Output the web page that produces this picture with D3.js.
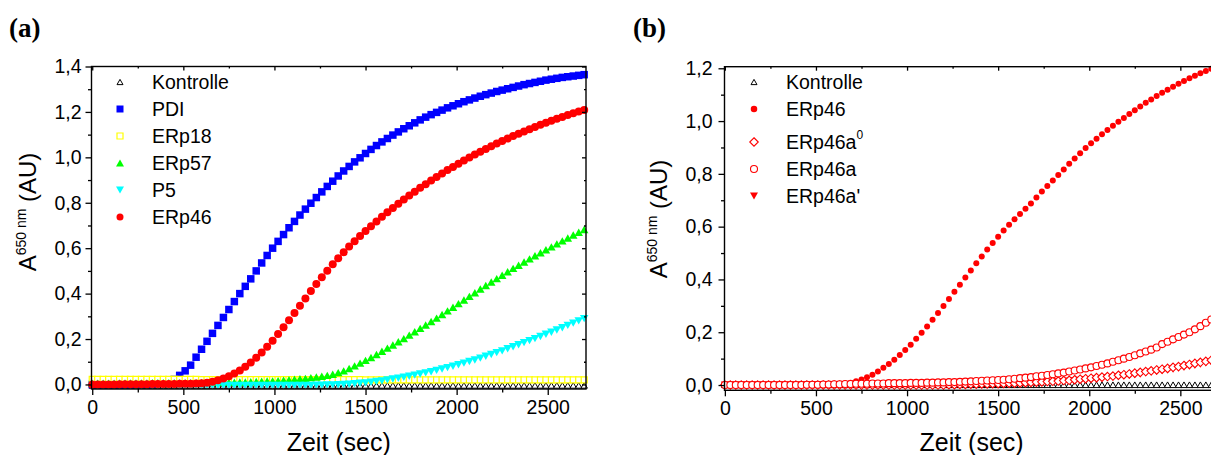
<!DOCTYPE html>
<html><head><meta charset="utf-8">
<script src="https://cdn.jsdelivr.net/npm/d3@7/dist/d3.min.js"></script>
<style>
body{margin:0;background:#fff}
svg{display:block}
</style></head>
<body><svg id="chart" width="1211" height="455"></svg>
<script>
// ---------- DATA ----------
const timeA = [0,30,60,90,120,150,180,210,240,270,300,330,360,390,420,450,480,510,540,570,600,630,660,690,720,750,780,810,840,870,900,930,960,990,1020,1050,1080,1110,1140,1170,1200,1230,1260,1290,1320,1350,1380,1410,1440,1470,1500,1530,1560,1590,1620,1650,1680,1710,1740,1770,1800,1830,1860,1890,1920,1950,1980,2010,2040,2070,2100,2130,2160,2190,2220,2250,2280,2310,2340,2370,2400,2430,2460,2490,2520,2550,2580,2610,2640,2670,2700];

// Panel (a)
const kontrolleA = [-0.004,-0.004,-0.004,-0.004,-0.004,-0.004,-0.004,-0.004,-0.004,-0.004,-0.004,-0.004,-0.004,-0.004,-0.004,-0.004,-0.004,-0.004,-0.004,-0.004,-0.004,-0.004,-0.004,-0.004,-0.004,-0.004,-0.004,-0.004,-0.004,-0.004,-0.004,-0.004,-0.004,-0.004,-0.004,-0.004,-0.004,-0.004,-0.004,-0.004,-0.004,-0.004,-0.004,-0.004,-0.004,-0.004,-0.004,-0.004,-0.004,-0.004,-0.004,-0.004,-0.004,-0.004,-0.004,-0.004,-0.004,-0.004,-0.004,-0.004,-0.004,-0.004,-0.004,-0.004,-0.004,-0.004,-0.004,-0.004,-0.004,-0.004,-0.004,-0.004,-0.004,-0.004,-0.004,-0.004,-0.004,-0.004,-0.004,-0.004,-0.004,-0.004,-0.004,-0.004,-0.004,-0.004,-0.004,-0.004,-0.004,-0.004,-0.004];
const pdi = [0,0,0,0,0,0,0,0,0.001,0.001,0.002,0.003,0.005,0.008,0.013,0.022,0.040,0.060,0.085,0.120,0.155,0.190,0.225,0.260,0.295,0.330,0.365,0.400,0.432,0.465,0.500,0.535,0.568,0.600,0.630,0.660,0.690,0.718,0.746,0.772,0.798,0.823,0.848,0.872,0.895,0.918,0.940,0.960,0.980,0.998,1.017,1.035,1.052,1.068,1.083,1.098,1.112,1.126,1.139,1.152,1.165,1.177,1.188,1.198,1.208,1.218,1.227,1.236,1.245,1.253,1.261,1.269,1.276,1.283,1.290,1.296,1.302,1.308,1.314,1.320,1.325,1.330,1.335,1.340,1.344,1.348,1.352,1.355,1.358,1.361,1.364];
const erp18 = [0.022,0.022,0.022,0.022,0.022,0.022,0.022,0.022,0.022,0.022,0.022,0.022,0.022,0.022,0.022,0.022,0.022,0.022,0.022,0.022,0.021,0.021,0.021,0.021,0.021,0.021,0.021,0.021,0.021,0.021,0.021,0.021,0.021,0.021,0.021,0.021,0.021,0.021,0.021,0.021,0.021,0.021,0.021,0.021,0.021,0.021,0.021,0.021,0.021,0.021,0.020,0.020,0.020,0.020,0.020,0.020,0.020,0.020,0.020,0.020,0.020,0.020,0.020,0.020,0.020,0.020,0.020,0.020,0.020,0.020,0.020,0.020,0.020,0.020,0.020,0.020,0.020,0.020,0.020,0.020,0.020,0.020,0.020,0.020,0.020,0.020,0.020,0.020,0.020,0.020,0.020];
const erp57 = [0.006,0.006,0.006,0.006,0.006,0.007,0.007,0.007,0.007,0.007,0.007,0.008,0.008,0.008,0.008,0.008,0.008,0.008,0.008,0.008,0.009,0.009,0.009,0.009,0.010,0.010,0.010,0.011,0.011,0.012,0.013,0.014,0.015,0.016,0.017,0.019,0.021,0.023,0.025,0.027,0.030,0.033,0.036,0.040,0.045,0.052,0.060,0.070,0.082,0.094,0.106,0.119,0.132,0.146,0.160,0.174,0.188,0.202,0.217,0.232,0.247,0.262,0.277,0.292,0.308,0.324,0.340,0.356,0.372,0.388,0.404,0.420,0.436,0.451,0.466,0.481,0.496,0.511,0.525,0.539,0.553,0.567,0.580,0.593,0.606,0.619,0.632,0.645,0.658,0.670,0.682];
const p5 = [-0.004,-0.004,-0.004,-0.004,-0.004,-0.004,-0.004,-0.004,-0.004,-0.004,-0.004,-0.004,-0.004,-0.004,-0.004,-0.004,-0.004,-0.004,-0.004,-0.004,-0.004,-0.004,-0.004,-0.004,-0.004,-0.004,-0.004,-0.004,-0.004,-0.004,-0.004,-0.004,-0.004,-0.004,-0.004,-0.004,-0.004,-0.004,-0.004,-0.004,-0.004,-0.003,-0.003,-0.002,-0.002,-0.001,0.000,0.001,0.003,0.005,0.007,0.010,0.013,0.016,0.020,0.024,0.028,0.032,0.036,0.041,0.046,0.051,0.056,0.062,0.068,0.074,0.080,0.087,0.094,0.101,0.108,0.116,0.124,0.132,0.140,0.148,0.157,0.166,0.175,0.184,0.193,0.202,0.211,0.221,0.230,0.240,0.250,0.260,0.270,0.280,0.290];
const erp46A = [0,0,0,0,0,0.001,0.001,0.001,0.001,0.001,0.001,0.002,0.002,0.002,0.002,0.002,0.003,0.003,0.003,0.004,0.005,0.008,0.012,0.018,0.026,0.036,0.048,0.062,0.078,0.097,0.118,0.141,0.166,0.193,0.222,0.252,0.283,0.315,0.347,0.379,0.411,0.442,0.472,0.501,0.529,0.556,0.582,0.607,0.631,0.654,0.676,0.697,0.718,0.738,0.758,0.777,0.796,0.814,0.832,0.849,0.866,0.882,0.898,0.914,0.929,0.944,0.958,0.972,0.986,0.999,1.012,1.025,1.037,1.049,1.061,1.072,1.083,1.094,1.104,1.114,1.124,1.134,1.143,1.152,1.161,1.170,1.178,1.186,1.194,1.202,1.209];

// Panel (b)
const kontrolleB = [0.001,0.001,0.001,0.001,0.001,0.001,0.001,0.001,0.001,0.001,0.001,0.001,0.001,0.001,0.001,0.001,0.001,0.001,0.001,0.001,0.001,0.001,0.001,0.001,0.001,0.001,0.001,0.001,0.001,0.001,0.001,0.001,0.001,0.001,0.001,0.001,0.001,0.001,0.001,0.001,0.001,0.001,0.001,0.001,0.001,0.001,0.001,0.001,0.001,0.001,0.001,0.001,0.001,0.001,0.001,0.001,0.001,0.001,0.001,0.001,0.001,0.001,0.001,0.001,0.001,0.001,0.001,0.001,0.001,0.001,0.001,0.001,0.001,0.001,0.001,0.001,0.001,0.001,0.001,0.001,0.001,0.001,0.001,0.001,0.001,0.001,0.001,0.001,0.001,0.001,0.001];
const erp46B = [0,0,0,0,0,0,0,0,0,0,0,0,0,0.001,0.001,0.001,0.001,0.001,0.002,0.002,0.003,0.004,0.006,0.009,0.014,0.021,0.029,0.039,0.051,0.065,0.080,0.096,0.114,0.133,0.153,0.175,0.198,0.222,0.247,0.273,0.299,0.326,0.353,0.380,0.407,0.434,0.461,0.487,0.513,0.538,0.562,0.585,0.607,0.628,0.648,0.668,0.688,0.710,0.733,0.754,0.775,0.796,0.817,0.838,0.858,0.878,0.898,0.916,0.933,0.950,0.966,0.982,0.997,1.012,1.027,1.041,1.055,1.069,1.082,1.095,1.107,1.119,1.130,1.141,1.152,1.162,1.172,1.181,1.190,1.198,1.206];
const erp46a0 = [0,0,0,0,0,0,0,0,0,0,0,0,0,0,0,0,0,0,0,0,0,0,0,0,0,0,0,0,0,0,0,0,0,0,0,0,0,0,0,0,0,0.001,0.001,0.002,0.002,0.003,0.003,0.004,0.004,0.005,0.005,0.006,0.007,0.007,0.008,0.009,0.010,0.011,0.012,0.013,0.014,0.015,0.017,0.018,0.020,0.022,0.024,0.026,0.028,0.030,0.032,0.034,0.037,0.039,0.042,0.045,0.048,0.051,0.054,0.057,0.060,0.063,0.067,0.070,0.074,0.078,0.082,0.086,0.090,0.094,0.098];
const erp46a = [0,0,0,0,0,0,0,0,0,0,0,0,0,0,0,0.001,0.001,0.001,0.002,0.002,0.003,0.003,0.004,0.004,0.005,0.005,0.005,0.006,0.006,0.006,0.007,0.007,0.007,0.007,0.008,0.008,0.008,0.009,0.009,0.010,0.010,0.011,0.011,0.012,0.013,0.014,0.015,0.016,0.017,0.018,0.019,0.020,0.022,0.024,0.026,0.028,0.030,0.033,0.035,0.038,0.041,0.044,0.047,0.051,0.055,0.059,0.063,0.067,0.072,0.077,0.082,0.088,0.094,0.100,0.106,0.113,0.120,0.127,0.134,0.142,0.155,0.164,0.173,0.182,0.191,0.200,0.211,0.223,0.236,0.248,0.260];
const erp46aPrime = [0,0,0,0,0,0,0,0,0,0,0,0,0,0,0,0,0,0,0,0,0,0,0,0,0,0,0,0,0,0,0,0,0,0,0,0,0,0,0,0,0,0,0,0.001,0.001,0.001,0.002,0.002,0.003,0.003,0.004,0.004,0.005,0.005,0.006,0.007,0.008,0.008,0.009,0.010,0.011,0.012,0.013,0.015,0.016,0.018,0.020,0.021,0.023,0.025,0.027,0.029,0.031,0.034,0.036,0.039,0.042,0.045,0.048,0.051,0.054,0.057,0.060,0.063,0.067,0.071,0.075,0.079,0.083,0.087,0.091];

const xTicks = [0,500,1000,1500,2000,2500];
const xMinor = [250,750,1250,1750,2250,2750];
const yTicksA = [0,0.2,0.4,0.6,0.8,1.0,1.2,1.4];
const yMinorA = [0.1,0.3,0.5,0.7,0.9,1.1,1.3];
const yTicksB = [0,0.2,0.4,0.6,0.8,1.0,1.2];
const yMinorB = [0.1,0.3,0.5,0.7,0.9,1.1];
const legendA = ["Kontrolle","PDI","ERp18","ERp57","P5","ERp46"];
const legendB = ["Kontrolle","ERp46","ERp46a","ERp46a","ERp46a'"];

// ---------- DRAWING ----------
const SANS = "'Liberation Sans', Arial, sans-serif";
const SERIF = "'Liberation Serif', 'Times New Roman', serif";
const svg = d3.select("#chart");
const fmt = v => d3.format(".1f")(v).replace(".", ",");

function shape(kind, s) {
  const p = d3.path(), h = s / 2;
  if (kind === "circle") { p.arc(0, 0, h, 0, 2 * Math.PI); }
  else if (kind === "square") { p.rect(-h, -h, s, s); }
  else if (kind === "up") { const th = s * 0.87; p.moveTo(0, -th / 2); p.lineTo(h, th / 2); p.lineTo(-h, th / 2); p.closePath(); }
  else if (kind === "down") { const th = s * 0.87; p.moveTo(0, th / 2); p.lineTo(h, -th / 2); p.lineTo(-h, -th / 2); p.closePath(); }
  else if (kind === "diamond") { p.moveTo(0, -h); p.lineTo(h, 0); p.lineTo(0, h); p.lineTo(-h, 0); p.closePath(); }
  return p.toString();
}

function panel(cfg) {
  const g = svg.append("g");
  const x = d3.scaleLinear().domain(cfg.xDom).range([cfg.left, cfg.right]);
  const y = d3.scaleLinear().domain(cfg.yDom).range([cfg.bottom, cfg.top]);

  cfg.draw.forEach(s => {
    g.append("g").selectAll("path").data(s.values.map((v, i) => [s.times[i], v])).join("path")
      .attr("d", shape(s.kind, s.size))
      .attr("transform", d => `translate(${x(d[0])},${y(d[1])})`)
      .attr("fill", s.fill).attr("stroke", s.stroke || "none").attr("stroke-width", s.sw || 0);
  });

  g.append("rect").attr("x", cfg.left).attr("y", cfg.top)
    .attr("width", cfg.right - cfg.left).attr("height", cfg.bottom - cfg.top)
    .attr("fill", "none").attr("stroke", "#000").attr("stroke-width", 1.4);

  const style = a => { a.select(".domain").remove(); a.selectAll("line").attr("stroke", "#000").attr("stroke-width", 1.3); };
  const lbl = sel => sel.selectAll("text").style("font-size", "19.5px").style("font-family", SANS).attr("fill", "#000");
  const xm = xMinor.filter(v => v < cfg.xDom[1]);
  g.append("g").attr("transform", `translate(0,${cfg.bottom})`)
    .call(d3.axisBottom(x).tickValues(xTicks).tickSize(6).tickPadding(5).tickFormat(d3.format("d")))
    .call(style).call(lbl);
  g.append("g").attr("transform", `translate(0,${cfg.bottom})`)
    .call(d3.axisBottom(x).tickValues(xm).tickSize(3.5).tickFormat("")).call(style);
  g.append("g").attr("transform", `translate(0,${cfg.top})`)
    .call(d3.axisBottom(x).tickValues(xTicks).tickSize(4).tickFormat("")).call(style);
  g.append("g").attr("transform", `translate(0,${cfg.top})`)
    .call(d3.axisBottom(x).tickValues(xm).tickSize(2).tickFormat("")).call(style);
  g.append("g").attr("transform", `translate(${cfg.left},0)`)
    .call(d3.axisLeft(y).tickValues(cfg.yTicks).tickSize(6).tickPadding(cfg.yPad).tickFormat(fmt))
    .call(style).call(lbl);
  g.append("g").attr("transform", `translate(${cfg.left},0)`)
    .call(d3.axisLeft(y).tickValues(cfg.yMinor).tickSize(3.5).tickFormat("")).call(style);
  g.append("g").attr("transform", `translate(${cfg.right},0)`)
    .call(d3.axisLeft(y).tickValues(cfg.yTicks).tickSize(4).tickFormat("")).call(style);
  g.append("g").attr("transform", `translate(${cfg.right},0)`)
    .call(d3.axisLeft(y).tickValues(cfg.yMinor).tickSize(2).tickFormat("")).call(style);

  g.append("text").attr("x", (cfg.left + cfg.right) / 2).attr("y", 451)
    .attr("text-anchor", "middle").style("font-family", SANS).style("font-size", "25px").text("Zeit (sec)");
  const yl = g.append("text").attr("transform", `translate(${cfg.ylx},${cfg.yly}) rotate(-90)`)
    .attr("text-anchor", "middle").style("font-family", SANS).style("font-size", "24px");
  yl.append("tspan").text("A");
  yl.append("tspan").style("font-size", "14px").attr("dy", -10).text("650 nm");
  yl.append("tspan").attr("dy", 10).text(" (AU)");

  g.append("text").attr("x", cfg.letterX).attr("y", 37)
    .style("font-family", SERIF).style("font-size", "27px").style("font-weight", "bold").text(cfg.letter);

  const lg = g.append("g");
  cfg.legend.forEach((it, i) => {
    const ly = cfg.legY[i];
    lg.append("path").attr("d", shape(it.kind, it.lsize))
      .attr("transform", `translate(${cfg.legSymX},${ly})`)
      .attr("fill", it.fill).attr("stroke", it.stroke || "none").attr("stroke-width", it.sw || 0);
    const t = lg.append("text").attr("x", cfg.legTextX).attr("y", ly + 7)
      .style("font-family", SANS).style("font-size", "19.5px");
    t.append("tspan").text(it.name);
    if (it.sup) t.append("tspan").style("font-size", "12px").attr("dy", -10).text(it.sup);
  });
}

const sA = {
  kontrolle: {name: legendA[0], times: timeA, values: kontrolleA, kind: "up", size: 6.5, lsize: 6, fill: "#fff", stroke: "#000", sw: 1},
  pdi: {name: legendA[1], times: timeA, values: pdi, kind: "square", size: 7.5, lsize: 7, fill: "#0000ff"},
  erp18: {name: legendA[2], times: timeA, values: erp18, kind: "square", size: 6, lsize: 6, fill: "#fff", stroke: "#ffff00", sw: 1.2},
  erp57: {name: legendA[3], times: timeA, values: erp57, kind: "up", size: 8.5, lsize: 8, fill: "#00ff00"},
  p5: {name: legendA[4], times: timeA, values: p5, kind: "down", size: 8.5, lsize: 8, fill: "#00ffff"},
  erp46: {name: legendA[5], times: timeA, values: erp46A, kind: "circle", size: 8, lsize: 7, fill: "#ff0000"}
};
panel({
  xDom: [-4, 2710], yDom: [-0.02, 1.4], left: 91.5, right: 586, top: 66.5, bottom: 389,
  yTicks: yTicksA, yMinor: yMinorA, yPad: 4,
  ylx: 36, yly: 212, letter: "(a)", letterX: 9,
  draw: [sA.kontrolle, sA.pdi, sA.erp18, sA.erp57, sA.p5, sA.erp46],
  legend: [sA.kontrolle, sA.pdi, sA.erp18, sA.erp57, sA.p5, sA.erp46],
  legSymX: 120, legTextX: 152, legY: [82, 109, 136, 163, 190, 217]
});

const sB = {
  kontrolle: {name: legendB[0], times: timeA, values: kontrolleB, kind: "up", size: 6.5, lsize: 6, fill: "#fff", stroke: "#000", sw: 1},
  erp46: {name: legendB[1], times: timeA, values: erp46B, kind: "circle", size: 6, lsize: 6.5, fill: "#ff0000"},
  a0: {name: legendB[2], sup: "0", times: timeA, values: erp46a0, kind: "diamond", size: 8.5, lsize: 8.5, fill: "#fff", stroke: "#ff0000", sw: 1.1},
  a: {name: legendB[3], times: timeA, values: erp46a, kind: "circle", size: 7, lsize: 7, fill: "#fff", stroke: "#ff0000", sw: 1.1},
  aP: {name: legendB[4], times: timeA, values: erp46aPrime, kind: "down", size: 8, lsize: 8, fill: "#ff0000"}
};
panel({
  xDom: [-2, 2710], yDom: [-0.02, 1.206], left: 724.5, right: 1218.6, top: 66.7, bottom: 390.3,
  yTicks: yTicksB, yMinor: yMinorB, yPad: 6,
  ylx: 667, yly: 219, letter: "(b)", letterX: 633,
  draw: [sB.kontrolle, sB.erp46, sB.aP, sB.a0, sB.a],
  legend: [sB.kontrolle, sB.erp46, sB.a0, sB.a, sB.aP],
  legSymX: 754, legTextX: 786, legY: [82, 109, 142, 169, 196]
});
</script></body></html>
